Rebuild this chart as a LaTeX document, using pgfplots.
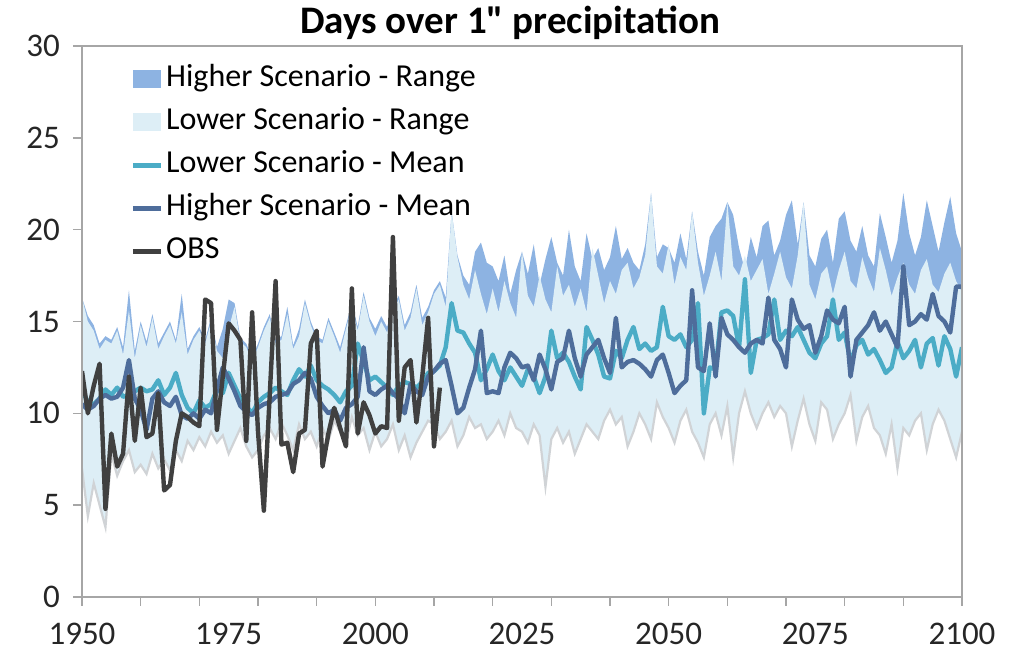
\documentclass[border=0pt]{standalone}
\usepackage{pgfplots}
\pgfplotsset{compat=1.18}
\usepackage{pgfplotstable}
\usepackage{fontspec}
\setmainfont{Carlito}
\definecolor{hrange}{HTML}{8DB3E2}
\definecolor{lrange}{HTML}{DDEEF6}
\definecolor{lmeanc}{HTML}{4BACC6}
\definecolor{hmeanc}{HTML}{4E6D9B}
\definecolor{obsc}{HTML}{404040}
\definecolor{axisgray}{HTML}{A6A6A6}
\definecolor{edgegray}{HTML}{D0D3D6}
\pgfplotstableread{
year hmax lmax lmin lmean hmean
1950 16.3 16.3 7.0 11.3 10.5
1951 15.3 15.0 4.4 10.6 10.2
1952 14.8 14.5 6.2 10.5 10.4
1953 13.8 13.5 5.0 10.8 10.8
1954 14.2 14.0 3.8 11.3 11.0
1955 14.0 13.8 7.8 11.0 10.8
1956 14.7 14.5 6.6 11.4 10.9
1957 13.6 13.2 7.4 10.9 11.4
1958 16.7 15.6 8.0 11.0 12.9
1959 13.4 13.0 6.8 11.2 10.8
1960 15.0 14.8 7.2 11.4 10.2
1961 13.9 13.6 6.7 11.2 9.1
1962 15.4 15.2 7.8 11.3 10.8
1963 13.8 13.5 7.0 11.8 11.2
1964 14.4 14.2 7.5 11.0 10.6
1965 15.0 14.8 6.9 11.4 10.4
1966 14.0 13.8 8.0 12.2 10.9
1967 16.5 15.5 7.4 11.0 9.9
1968 13.5 13.2 8.5 10.3 9.7
1969 14.2 14.0 8.0 10.0 10.0
1970 14.7 14.5 8.7 10.7 9.7
1971 14.0 13.8 8.2 10.3 10.2
1972 15.2 15.0 9.0 10.5 10.0
1973 13.6 13.4 8.4 11.3 11.3
1974 14.6 13.0 8.8 11.1 12.5
1975 16.2 14.6 7.8 12.2 11.9
1976 16.0 15.8 8.5 11.5 11.2
1977 14.1 13.9 9.2 10.8 10.4
1978 13.8 13.6 8.2 10.4 10.1
1979 13.0 12.8 7.6 10.0 9.9
1980 13.8 13.6 8.0 10.6 10.3
1981 14.7 14.5 8.8 10.9 10.5
1982 15.4 15.2 9.2 11.1 10.6
1983 14.0 13.8 8.6 11.4 10.9
1984 14.2 14.0 9.5 11.2 11.0
1985 15.8 15.4 8.8 11.0 11.1
1986 13.7 13.5 8.0 11.8 11.6
1987 14.6 14.2 9.4 12.4 11.8
1988 16.2 16.0 8.6 12.0 12.2
1989 15.0 14.8 9.0 12.6 11.9
1990 14.2 14.0 8.2 11.8 10.9
1991 14.0 13.8 9.2 11.5 10.4
1992 15.2 15.0 8.5 11.3 10.0
1993 14.4 14.2 9.6 11.0 10.2
1994 13.6 13.3 9.0 10.6 9.6
1995 14.8 14.6 8.4 11.2 10.3
1996 16.0 15.8 9.8 11.5 10.5
1997 14.7 14.5 8.8 13.8 10.9
1998 16.6 16.4 9.2 12.8 13.6
1999 15.2 15.0 8.0 11.8 11.2
2000 14.6 14.2 9.0 12.0 11.0
2001 15.3 15.0 8.2 11.7 11.3
2002 14.7 14.4 8.6 11.4 11.5
2003 15.8 15.6 9.4 11.0 11.1
2004 16.4 16.2 8.0 11.5 10.8
2005 14.8 14.5 8.8 11.7 10.0
2006 15.5 15.2 7.6 11.6 11.6
2007 17.0 16.8 8.4 11.4 11.2
2008 15.2 14.8 9.0 11.7 11.0
2009 15.8 15.5 9.6 12.2 12.0
2010 16.7 16.5 9.4 12.3 12.3
2011 17.2 17.0 8.6 12.6 12.7
2012 16.3 15.8 9.0 13.6 12.9
2013 21.0 21.0 9.6 16.0 11.5
2014 18.6 18.5 8.2 14.5 10.0
2015 17.5 17.0 8.8 14.4 10.3
2016 17.0 16.2 9.8 13.8 11.4
2017 18.8 17.8 9.2 13.3 12.4
2018 19.3 16.5 9.4 11.8 14.5
2019 18.2 15.4 8.6 12.4 11.1
2020 18.0 16.8 9.0 13.2 11.2
2021 17.2 15.5 9.6 12.3 11.1
2022 18.6 17.2 8.8 11.8 12.5
2023 16.5 16.0 10.0 12.5 13.3
2024 17.8 15.2 9.2 12.0 13.0
2025 18.8 18.8 9.0 11.5 12.5
2026 17.6 16.4 8.4 12.4 12.6
2027 19.2 15.8 9.4 12.0 11.8
2028 17.0 17.5 8.8 11.1 13.2
2029 18.4 16.2 6.0 12.0 12.4
2030 19.6 15.5 8.6 14.5 11.3
2031 18.2 18.0 9.2 13.0 12.8
2032 17.5 16.4 8.4 13.3 13.0
2033 20.0 17.0 9.0 12.8 14.5
2034 18.0 15.8 7.8 12.0 13.0
2035 17.2 16.8 8.6 11.3 12.0
2036 19.8 15.5 9.4 14.7 13.2
2037 18.4 19.0 9.0 14.0 13.6
2038 19.0 17.5 8.6 13.2 14.0
2039 17.8 16.0 9.6 12.0 13.0
2040 18.5 17.2 10.2 11.9 12.2
2041 20.2 16.5 9.4 13.4 15.2
2042 18.4 17.8 9.8 13.0 12.5
2043 19.0 18.2 8.2 14.0 12.8
2044 18.2 16.8 9.0 14.7 12.9
2045 17.8 17.4 10.0 13.5 12.7
2046 19.2 18.6 9.4 13.8 12.4
2047 22.0 22.0 8.6 13.4 12.0
2048 18.5 18.0 10.6 13.6 12.9
2049 19.2 17.6 9.8 15.8 13.2
2050 19.0 19.2 9.2 14.2 12.2
2051 18.2 17.0 8.4 14.0 11.1
2052 19.8 18.5 9.6 14.3 11.5
2053 18.4 17.8 10.2 13.6 11.8
2054 21.0 21.0 9.0 14.0 16.7
2055 18.8 18.2 8.4 16.0 12.5
2056 17.5 16.4 7.6 10.0 12.3
2057 19.6 17.5 9.4 12.5 14.9
2058 20.2 18.8 10.0 12.4 12.0
2059 20.6 17.2 8.8 15.5 15.2
2060 21.5 21.5 10.4 15.6 14.3
2061 20.8 18.0 7.6 15.3 14.0
2062 19.0 17.5 10.0 13.6 13.6
2063 17.8 18.6 11.2 17.3 13.3
2064 19.6 17.2 10.0 12.2 13.8
2065 18.5 17.8 9.2 14.0 14.0
2066 20.2 18.4 10.0 14.1 13.8
2067 20.5 16.5 10.6 14.3 16.3
2068 18.6 17.6 9.8 16.2 14.0
2069 19.4 18.8 10.4 14.0 13.5
2070 20.8 17.4 10.0 14.5 12.5
2071 21.6 16.8 8.2 14.2 16.2
2072 19.2 18.6 9.6 14.7 15.1
2073 21.5 21.5 10.8 14.0 14.6
2074 18.6 17.0 9.4 13.3 14.8
2075 18.0 16.2 8.5 13.0 13.3
2076 19.5 17.6 10.6 13.8 14.2
2077 20.0 18.0 10.2 14.2 15.6
2078 18.2 16.5 8.6 16.2 15.1
2079 20.6 17.8 9.4 14.0 14.9
2080 21.0 18.8 10.0 14.4 15.8
2081 19.4 17.2 11.0 12.8 12.0
2082 18.8 16.8 8.5 13.7 14.0
2083 20.2 18.5 9.8 14.0 14.4
2084 18.6 17.4 10.4 13.2 14.8
2085 18.0 16.6 9.2 13.5 15.5
2086 20.9 19.0 8.8 12.9 14.5
2087 19.6 17.8 7.8 12.2 15.0
2088 18.2 16.4 9.4 12.5 14.3
2089 19.4 17.4 7.0 13.9 13.6
2090 22.0 18.2 9.2 13.0 18.0
2091 19.8 17.0 8.8 13.4 14.8
2092 18.6 16.5 9.6 14.0 15.0
2093 19.6 17.8 10.0 12.5 15.4
2094 21.6 18.4 8.0 13.8 15.1
2095 20.2 17.0 9.4 14.1 16.5
2096 18.8 16.6 10.2 12.6 15.3
2097 20.4 17.6 9.6 14.2 15.0
2098 21.8 18.2 8.6 13.5 14.4
2099 19.8 17.2 7.6 12.0 16.9
2100 18.8 16.6 9.0 13.6 16.9
}\datatable
\pgfplotstableread{
year obs
1950 12.3
1951 10.0
1952 11.5
1953 12.7
1954 4.8
1955 8.9
1956 7.1
1957 7.8
1958 12.0
1959 8.5
1960 11.4
1961 8.7
1962 8.9
1963 11.1
1964 5.8
1965 6.1
1966 8.5
1967 10.0
1968 9.8
1969 9.5
1970 9.3
1971 16.2
1972 16.0
1973 9.1
1974 12.0
1975 14.9
1976 14.5
1977 14.0
1978 8.5
1979 15.5
1980 9.0
1981 4.7
1982 11.0
1983 17.2
1984 8.3
1985 8.4
1986 6.8
1987 8.9
1988 9.1
1989 13.8
1990 14.5
1991 7.1
1992 8.9
1993 10.3
1994 9.2
1995 8.2
1996 16.8
1997 8.9
1998 10.6
1999 9.9
2000 8.9
2001 9.3
2002 9.2
2003 19.6
2004 9.6
2005 12.5
2006 12.9
2007 9.5
2008 12.0
2009 15.2
2010 8.2
2011 11.4
}\obstable
\begin{document}
\begin{tikzpicture}
\begin{axis}[
  width=440pt, height=275.5pt, scale only axis,
  xmin=1950, xmax=2100, ymin=0, ymax=30,
  axis on top,
  axis line style={draw=axisgray, line width=0.7pt},
  tick style={draw=axisgray, line width=0.7pt},
  tick align=outside, major tick length=4.5pt,
  xtick pos=bottom, ytick pos=left,
  xtick={1950,1960,...,2100}, xticklabels={},
  extra x ticks={1950,1975,2000,2025,2050,2075,2100},
  extra x tick labels={1950,1975,2000,2025,2050,2075,2100},
  extra x tick style={major tick length=0pt},
  ytick={0,5,...,30},
  yticklabel style={font=\fontsize{16.5}{19}\selectfont, xshift=-3pt, text=black!85},
  xticklabel style={font=\fontsize{16.5}{19}\selectfont, inner sep=0pt, yshift=-13pt, text=black!85},
  /pgf/number format/assume math mode=true,
  /pgf/number format/1000 sep={},
  title={\textbf{Days over 1\textquotedbl{} precipitation}},
  title style={font=\fontsize{19.5}{22}\selectfont, at={(0.5,1)}, anchor=base, inner sep=0pt, yshift=0.5pt, xshift=-6pt},
  legend cell align=left,
  legend style={draw=none, fill=none, at={(axis description cs:0.055,0.979)}, anchor=north west,
    font=\fontsize{16}{19}\selectfont, row sep=0pt, inner sep=0pt,
    nodes={inner xsep=1.5pt, inner ysep=3.5pt, text height=11pt, text depth=3.5pt}},
  legend image code/.code={\draw[#1, line width=2.2pt] (0pt,0pt) -- (14pt,0pt);},
]
\addplot[draw=none, fill=hrange, legend image code/.code={\fill[hrange] (0pt,-4.5pt) rectangle (14pt,4.5pt);}]
  table[x=year, y=hmax] {\datatable} \closedcycle;
\addlegendentry{Higher Scenario - Range}
\addplot[draw=none, fill=lrange, legend image code/.code={\fill[lrange] (0pt,-4.5pt) rectangle (14pt,4.5pt);}]
  table[x=year, y=lmax] {\datatable} \closedcycle;
\addlegendentry{Lower Scenario - Range}
\addplot[draw=none, fill=white, forget plot] table[x=year, y=lmin] {\datatable} \closedcycle;
\addplot[draw=edgegray, line width=1.1pt, forget plot] table[x=year, y=lmin] {\datatable};
\addplot[draw=lmeanc, line width=2.2pt, line join=round] table[x=year, y=lmean] {\datatable};
\addlegendentry{Lower Scenario - Mean}
\addplot[draw=hmeanc, line width=2.2pt, line join=round] table[x=year, y=hmean] {\datatable};
\addlegendentry{Higher Scenario - Mean}
\addplot[draw=obsc, line width=2.2pt, line join=round] table[x=year, y=obs] {\obstable};
\addlegendentry{OBS}
\end{axis}
\path ([shift={(-41pt,-28pt)}]current axis.south west) rectangle ([shift={(25.5pt,23pt)}]current axis.north east);
\end{tikzpicture}
\end{document}
